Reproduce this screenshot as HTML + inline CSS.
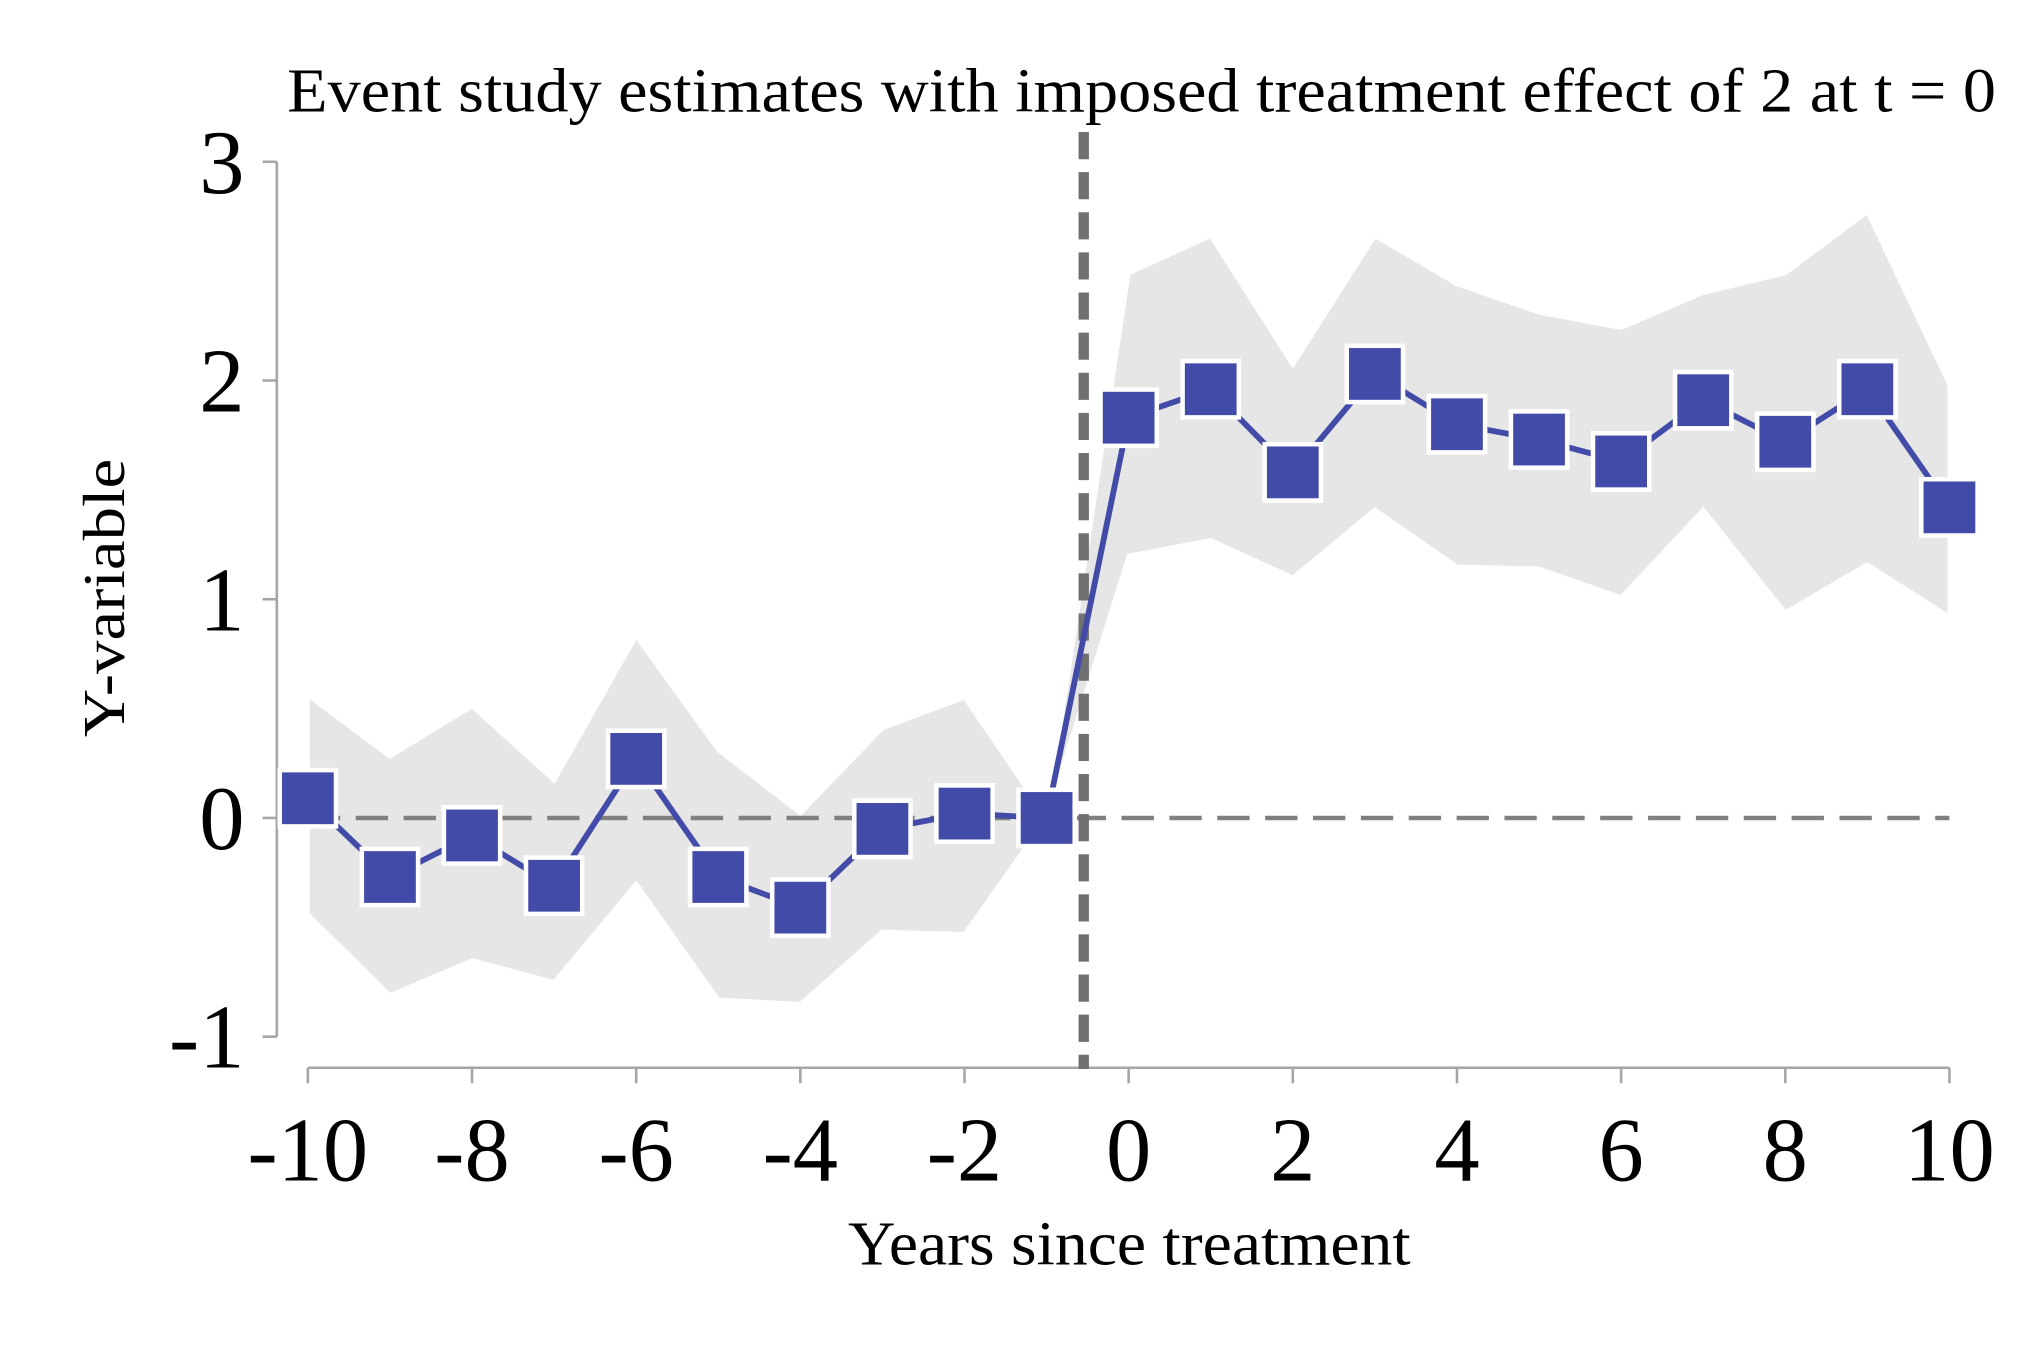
<!DOCTYPE html>
<html><head><meta charset="utf-8"><style>
html,body{margin:0;padding:0;background:#fff;}
svg{display:block;}
text{font-family:"Liberation Serif",serif;fill:#000;}
</style></head><body>
<svg id="chart" width="2018" height="1346" viewBox="0 0 1560 1040" preserveAspectRatio="none" xmlns="http://www.w3.org/2000/svg">
<text x="222" y="86" font-size="48" textLength="1321" lengthAdjust="spacingAndGlyphs">Event study estimates with imposed treatment effect of 2 at t = 0</text>
<text transform="translate(96,462) rotate(-90)" text-anchor="middle" font-size="46" textLength="215" lengthAdjust="spacingAndGlyphs">Y-variable</text>
<text x="873" y="977" text-anchor="middle" font-size="48" textLength="435" lengthAdjust="spacingAndGlyphs">Years since treatment</text>
<g id="band"></g>
<g id="axes"></g>
<g id="refs"></g>
<g id="series"></g>
</svg>
<script>
const years = [-10,-9,-8,-7,-6,-5,-4,-3,-2,-1,0,1,2,3,4,5,6,7,8,9,10];
const estimates = [0.09,-0.27,-0.08,-0.31,0.27,-0.27,-0.41,-0.05,0.02,0.0,1.83,1.96,1.58,2.03,1.80,1.73,1.63,1.91,1.72,1.96,1.42];
const upperCI = [0.56,0.28,0.51,0.17,0.83,0.31,0.02,0.41,0.55,0.0,2.49,2.66,2.07,2.66,2.44,2.31,2.24,2.40,2.49,2.77,1.98];
const lowerCI = [-0.44,-0.81,-0.65,-0.75,-0.30,-0.83,-0.85,-0.52,-0.53,0.0,1.20,1.27,1.10,1.41,1.15,1.14,1.01,1.41,0.94,1.16,0.92];
const xTicks = [-10,-8,-6,-4,-2,0,2,4,6,8,10];
const yTicks = [-1,0,1,2,3];
const NS='http://www.w3.org/2000/svg';
const X = v => 238 + (v + 10) * (1507 - 238) / 20;
const Y = v => 125 + (3 - v) * 169;
function mk(tag, attrs, parent){const e=document.createElementNS(NS,tag);for(const k in attrs)e.setAttribute(k,attrs[k]);parent.appendChild(e);return e;}
const band=document.getElementById('band'), axes=document.getElementById('axes'), refs=document.getElementById('refs'), series=document.getElementById('series');
let pts=years.map((y,i)=>X(y)+','+Y(upperCI[i]));
for(let i=years.length-1;i>=0;i--) pts.push(X(years[i])+','+Y(lowerCI[i]));
const poly=mk('polygon',{points:pts.join(' '),fill:'#e6e6e6',stroke:'#fff','stroke-width':3,'stroke-linejoin':'miter'},band);


const ya=mk('line',{x1:214,y1:Y(3),x2:214,y2:Y(-1),stroke:'#a6a6a6','stroke-width':2},axes);


yTicks.forEach(t=>{
  const l=mk('line',{x1:203,y1:Y(t),x2:214,y2:Y(t),stroke:'#a6a6a6','stroke-width':2},axes);
  
  
  const tx=mk('text',{x:189,y:Y(t)+24,'text-anchor':'end','font-size':70},axes);
  tx.textContent=t;
  
  
});
const xa=mk('line',{x1:X(-10),y1:825,x2:X(10),y2:825,stroke:'#a6a6a6','stroke-width':2},axes);


xTicks.forEach(t=>{
  const l=mk('line',{x1:X(t),y1:825,x2:X(t),y2:837,stroke:'#a6a6a6','stroke-width':2},axes);
  
  
  const tx=mk('text',{x:X(t),y:912,'text-anchor':'middle','font-size':70},axes);
  tx.textContent=t;
  
  
});
const h=mk('line',{x1:X(-10),y1:Y(0),x2:X(10),y2:Y(0),stroke:'#808080','stroke-width':3.5,'stroke-dasharray':'25 12'},refs);


const v=mk('line',{x1:X(-0.5)-3,y1:102,x2:X(-0.5)-3,y2:826,stroke:'#707070','stroke-width':8,'stroke-dasharray':'21 10'},refs);


const pl=mk('polyline',{points:years.map((y,i)=>X(y)+','+Y(estimates[i])).join(' '),fill:'none',stroke:'#434ba8','stroke-width':4.5},series);


years.forEach((y,i)=>{
  const r=mk('rect',{x:X(y)-20,y:Y(estimates[i])-20,width:40,height:40,fill:'#434ba8',stroke:'#fff','stroke-width':7,'paint-order':'stroke'},series);
  
  
});
</script>
</body></html>
